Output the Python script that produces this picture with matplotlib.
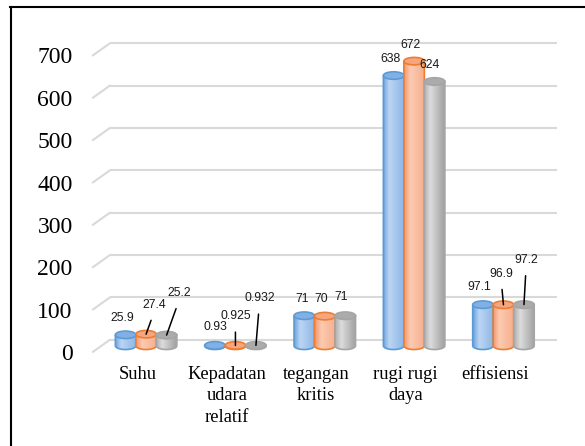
import numpy as np
import matplotlib
matplotlib.use('Agg')
import matplotlib.pyplot as plt
from matplotlib.patches import Ellipse, PathPatch
from matplotlib.path import Path
from matplotlib.transforms import offset_copy
from matplotlib.colors import to_rgb
from matplotlib.lines import Line2D

categories = ['Suhu', 'Kepadatan\nudara\nrelatif', 'tegangan\nkritis', 'rugi rugi\ndaya', 'effisiensi']
series_a = [25.9, 0.93, 71, 638, 97.1]
series_b = [27.4, 0.925, 70, 672, 96.9]
series_c = [25.2, 0.932, 71, 624, 97.2]
label_a = ['25.9', '0.93', '71', '638', '97.1']
label_b = ['27.4', '0.925', '70', '672', '96.9']
label_c = ['25.2', '0.932', '71', '624', '97.2']
y_ticks = [0, 100, 200, 300, 400, 500, 600, 700]

# cylinder colours: (left shade, highlight, right shade, outline, top)
styles = [
    ('#6FA3DE', '#BCD6F3', '#8DB6E6', '#5B9BD5', '#82B0E4'),
    ('#F3996D', '#FCCBB2', '#F6AE8B', '#ED7D31', '#F5A67F'),
    ('#B0B0B0', '#DCDCDC', '#A0A0A0', '#A5A5A5', '#ABABAB'),
]

# label offsets in pixels from the top of each cylinder, and which get a leader line
offsets = [
    [(-3.5, 16.5), (0.4, 18), (-2.3, 17), (-3.4, 16.8), (-3.8, 18)],
    [(8.3, 29.2), (0, 29), (-3.8, 17.5), (-3.9, 16.4), (-2.3, 31)],
    [(12.8, 41.8), (3.4, 47), (-4, 18.4), (-5.1, 16.7), (2.2, 44.6)],
]
leaders = [
    [False] * 5,
    [True, True, False, False, True],
    [True, True, False, False, True],
]

fig = plt.figure(figsize=(5.85, 4.46), dpi=100)
ax = fig.add_axes([0.1585, 0.2108, 0.7636, 0.6648])
ax.set_xlim(-0.5, 4.5)
ax.set_ylim(0, 700)
for s in ax.spines.values():
    s.set_visible(False)

# depth planes
back = offset_copy(ax.transData, fig=fig, x=17.3, y=12.3, units='dots')
mid = offset_copy(ax.transData, fig=fig, x=8.7, y=6.2, units='dots')

# pixel size of one data unit
p0 = ax.transData.transform((0, 0))
p1 = ax.transData.transform((1, 1))
px_x = p1[0] - p0[0]
px_y = p1[1] - p0[1]
bar_w = 20.5 / px_x
ell_h = 7.5 / px_y

grid_col = '#D9D9D9'
for v in y_ticks:
    ax.plot([-0.5, 4.5], [v, v], color=grid_col, lw=1.5, transform=back,
            clip_on=False, zorder=1, solid_capstyle='butt')
    ax.annotate('', xy=(-0.5, v), xycoords=back, xytext=(-0.5, v), textcoords='data',
                arrowprops=dict(arrowstyle='-', color=grid_col, lw=1.5,
                                shrinkA=0, shrinkB=0), zorder=1)


def cylinder(xc, v, st, z):
    left, hl, right, edge, top = st
    x0, x1 = xc - bar_w / 2, xc + bar_w / 2
    t = np.linspace(0, 1, 40)
    cl, ch, cr = np.array(to_rgb(left)), np.array(to_rgb(hl)), np.array(to_rgb(right))
    grad = np.where(t[:, None] < 0.3,
                    cl + (ch - cl) * (t[:, None] / 0.3),
                    ch + (cr - ch) * ((t[:, None] - 0.3) / 0.7))
    th = np.linspace(np.pi, 2 * np.pi, 30)
    verts = [(x0, v), (x0, 0)] + list(zip(xc + bar_w / 2 * np.cos(th), ell_h / 2 * np.sin(th))) \
        + [(x1, 0), (x1, v), (x0, v)]
    outline = PathPatch(Path(verts), transform=mid, facecolor='none', edgecolor=edge,
                        lw=1.2, zorder=z + 0.2, clip_on=False)
    ax.add_patch(outline)
    im = ax.imshow(grad[None, :, :], extent=(x0, x1, -ell_h / 2, v), transform=mid,
                   aspect='auto', interpolation='bilinear', zorder=z, clip_on=True)
    im.set_clip_path(outline)
    ax.add_patch(Ellipse((xc, v), bar_w, ell_h, transform=mid, facecolor=top,
                         edgecolor=edge, lw=1.2, zorder=z + 0.3, clip_on=False))


all_series = [series_a, series_b, series_c]
all_labels = [label_a, label_b, label_c]
for k, vals in enumerate(all_series):
    for i, v in enumerate(vals):
        xc = i + (k - 1) * bar_w
        cylinder(xc, v, styles[k], 3 + k)
        dx, dy = offsets[k][i]
        arrow = None
        if leaders[k][i]:
            arrow = dict(arrowstyle='-', color='black', lw=1.1, shrinkA=5, shrinkB=0,
                         relpos=(0.5, 0))
        ax.annotate(all_labels[k][i], xy=(xc, v), xycoords=mid, xytext=(dx, dy),
                    textcoords='offset pixels', ha='center', va='center',
                    fontsize=8.8, family='Liberation Sans', color='#1A1A1A',
                    arrowprops=arrow, zorder=10)

ax.set_xlim(-0.5, 4.5)
ax.set_ylim(0, 700)
ax.set_xticks(range(len(categories)))
ax.set_xticklabels(categories, fontsize=13.3, family='Liberation Serif', linespacing=1.35)
ax.set_yticks(y_ticks)
ax.set_yticklabels([str(v) for v in y_ticks], fontsize=17, family='Liberation Serif')
ax.tick_params(axis='x', length=0, pad=10)
ax.tick_params(axis='y', length=0, pad=14.4)

# outer frame
fig.add_artist(Line2D([10 / 585, 1], [1 - 6.5 / 446, 1 - 6.5 / 446], color='black', lw=1.5))
fig.add_artist(Line2D([11 / 585, 11 / 585], [0, 1 - 6.5 / 446], color='black', lw=1.5))

fig.savefig('out.png', dpi=100)
